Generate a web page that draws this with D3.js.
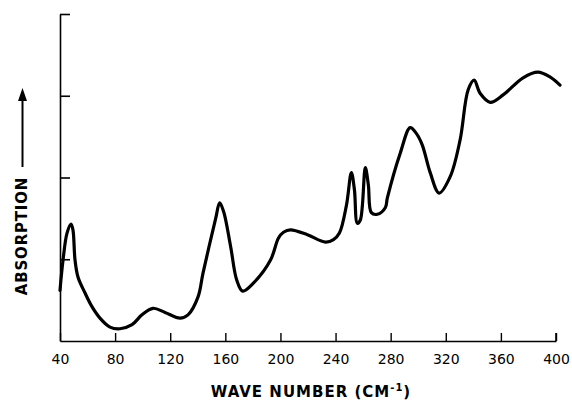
<!DOCTYPE html>
<html lang="en">
<head>
<meta charset="utf-8">
<title>Absorption spectrum</title>
<script src="https://cdn.jsdelivr.net/npm/d3@7"></script>
<style>
  body { margin: 0; background: #fff; }
  text { font-family: "DejaVu Sans", sans-serif; fill: #000; }
</style>
</head>
<body>
<script>

var width = 572;
var height = 400;

// wave number (cm-1)
var waveNumber = [40, 42.2, 45.1, 48.0, 49.4, 50.9, 53.1, 58.1, 63.2, 69.0,
  76.3, 83.5, 92.3, 99.5, 107.5, 116.2, 127.1, 132.9, 140.2, 143.8,
  153.0, 155.9, 158.8,
  163.9, 168.2, 172.6, 180.5, 192.8, 198.6, 202.2, 207.3, 219.6, 232.7,
  238.5, 242.8, 247.9, 251.5, 253.7, 255.8, 258.0, 261.6, 263.8, 266.0,
  270.3, 276.1, 277.6, 287.0, 294.2, 298.6, 302.9, 308.7, 315.2, 323.2,
  330.4, 336.2, 340.6, 344.9, 352.2, 361.6, 376.1, 386.9, 395.6, 402.9];
// absorption, arbitrary units (0 = baseline, 4 = top tick)
var absorption = [0.62, 0.99, 1.32, 1.43, 1.36, 0.99, 0.78, 0.59, 0.42, 0.28,
  0.17, 0.15, 0.20, 0.32, 0.40, 0.35, 0.28, 0.32, 0.54, 0.83,
  1.50, 1.69, 1.58,
  1.15, 0.75, 0.61, 0.71, 0.99, 1.26, 1.33, 1.36, 1.30, 1.21,
  1.24, 1.32, 1.66, 2.06, 1.85, 1.44, 1.48, 2.12, 1.91, 1.57,
  1.55, 1.63, 1.75, 2.30, 2.61, 2.54, 2.40, 2.06, 1.81, 2.01,
  2.46, 3.07, 3.19, 3.03, 2.92, 3.01, 3.22, 3.29, 3.23, 3.13];

var xTicks = [40, 80, 120, 160, 200, 240, 280, 320, 360, 400];
var yTicks = [1, 2, 3, 4];

var svg = d3.select("body").append("svg")
    .attr("width", width)
    .attr("height", height);

var x = d3.scaleLinear().domain([40, 400]).range([60, 556]);
var y = d3.scaleLinear().domain([0, 4]).range([341, 14]);

// bottom axis, ticks pointing up
var xAxis = svg.append("g")
    .attr("transform", "translate(0," + y(0) + ")")
    .call(d3.axisBottom(x).tickValues(xTicks).tickSizeInner(-8).tickSizeOuter(0).tickPadding(13));
xAxis.select(".domain").attr("stroke-width", 1.6);
xAxis.selectAll(".tick line").attr("stroke-width", 1.4);
xAxis.selectAll(".tick text")
    .attr("font-size", 14)
    .attr("font-family", "DejaVu Sans");

// right end upturn
svg.append("line")
    .attr("x1", x(400)).attr("x2", x(400))
    .attr("y1", y(0)).attr("y2", y(0) - 8)
    .attr("stroke", "#000").attr("stroke-width", 1.6);

// left axis, ticks pointing right, no labels
var yAxis = svg.append("g")
    .attr("transform", "translate(" + x(40) + ",0)")
    .call(d3.axisLeft(y).tickValues(yTicks).tickSizeInner(-10).tickSizeOuter(0).tickFormat(""));
yAxis.select(".domain").attr("stroke-width", 1.6);
yAxis.selectAll(".tick line").attr("stroke-width", 1.6);

// spectrum trace
var line = d3.line()
    .x(function(d, i){ return x(waveNumber[i]); })
    .y(function(d){ return y(d); })
    .curve(d3.curveCatmullRom.alpha(0.5));

svg.append("path")
    .datum(absorption)
    .attr("d", line)
    .attr("fill", "none")
    .attr("stroke", "#000")
    .attr("stroke-width", 3.2)
    .attr("stroke-linejoin", "round")
    .attr("stroke-linecap", "round");

// x title
var title = svg.append("text")
    .attr("x", 311)
    .attr("y", 397)
    .attr("text-anchor", "middle")
    .attr("font-size", 15)
    .attr("font-weight", "bold")
    .attr("letter-spacing", 1.0);
title.append("tspan").text("WAVE NUMBER (CM");
title.append("tspan").attr("font-size", 10).attr("dy", -6).text("-1");
title.append("tspan").attr("dy", 6).text(")");

// y title with arrow
svg.append("text")
    .attr("transform", "translate(27,236) rotate(-90)")
    .attr("text-anchor", "middle")
    .attr("font-size", 15)
    .attr("font-weight", "bold")
    .attr("letter-spacing", 0.8)
    .text("ABSORPTION");

svg.append("line")
    .attr("x1", 22.5).attr("x2", 22.5)
    .attr("y1", 167).attr("y2", 96)
    .attr("stroke", "#000").attr("stroke-width", 2);
svg.append("path")
    .attr("d", "M22.5,88 L18,101 L27,101 Z")
    .attr("fill", "#000");

</script>
</body>
</html>
